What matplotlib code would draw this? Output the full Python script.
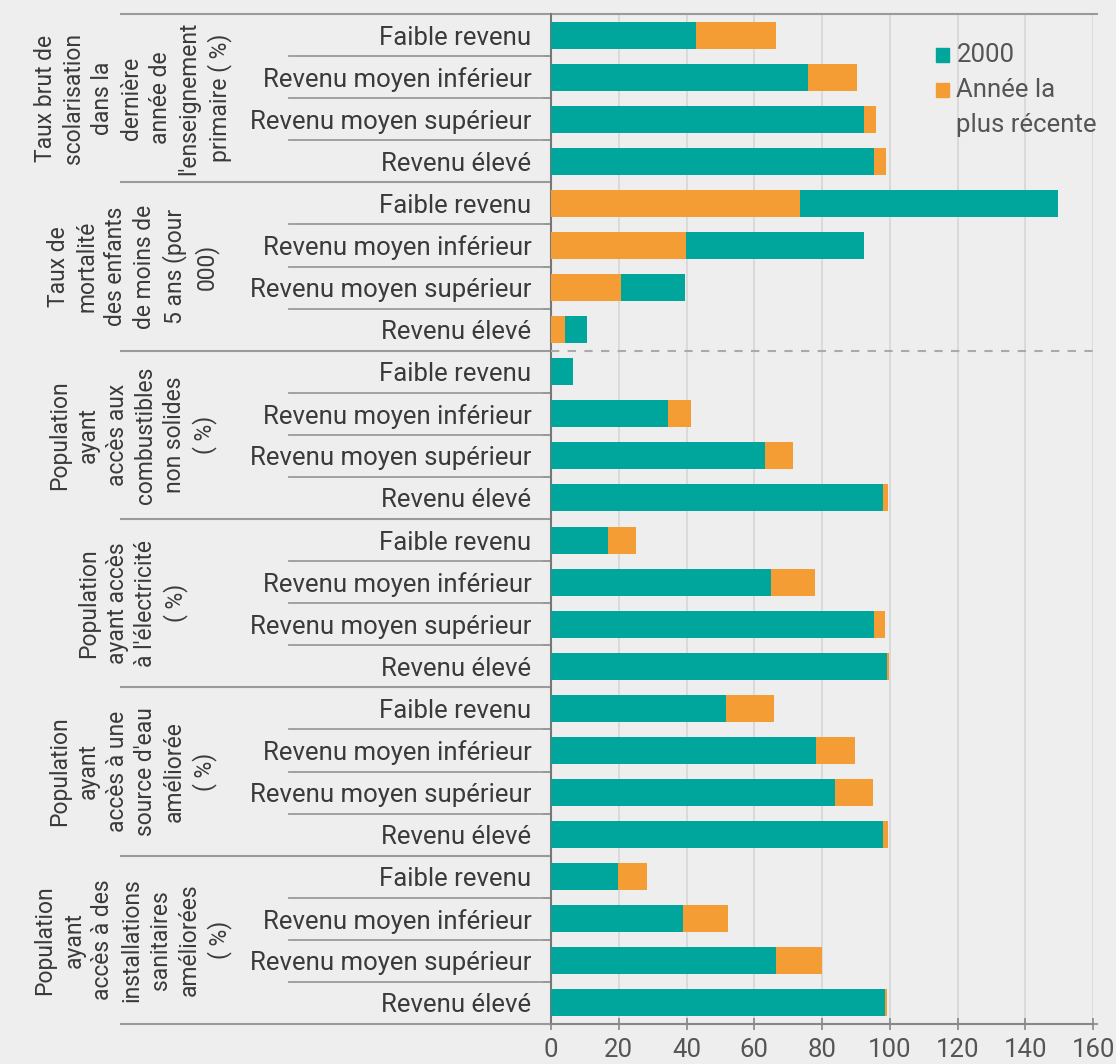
import matplotlib.pyplot as plt
from matplotlib.patches import Rectangle

plt.rcParams['font.family'] = ['Roboto', 'DejaVu Sans']

groups = [
    "Taux brut de\nscolarisation\ndans la\ndernière\nannée de\nl'enseignement\nprimaire ( %)",
    "Taux de\nmortalité\ndes enfants\nde moins de\n5 ans (pour\n000)",
    "Population\nayant\naccès aux\ncombustibles\nnon solides\n( %)",
    "Population\nayant accès\nà l'électricité\n( %)",
    "Population\nayant\naccès à une\nsource d'eau\naméliorée\n( %)",
    "Population\nayant\naccès à des\ninstallations\nsanitaires\naméliorées\n( %)",
]
incomes = ["Faible revenu", "Revenu moyen inférieur", "Revenu moyen supérieur", "Revenu élevé"]

# values per group, order = incomes
val_2000 = [
    [42.8, 76.0, 92.4, 95.3],
    [149.6, 92.4, 39.6, 10.6],
    [6.5, 34.5, 63.3, 97.9],
    [16.7, 65.0, 95.4, 99.2],
    [51.6, 78.2, 83.7, 97.9],
    [19.7, 39.1, 66.3, 98.5],
]
val_recent = [
    [66.3, 90.3, 95.9, 98.8],
    [73.6, 39.9, 20.8, 4.1],
    [6.5, 41.2, 71.4, 99.4],
    [25.0, 78.0, 98.7, 99.7],
    [65.8, 89.7, 95.1, 99.5],
    [28.4, 52.2, 80.0, 99.2],
]
xticks = [0, 20, 40, 60, 80, 100, 120, 140, 160]

teal = '#00a69c'
orange = '#f59d35'
bg = '#eeeeee'
txt = '#3a3a3a'
line_c = '#9a9a9a'
fs = 18.5

fig = plt.figure(figsize=(11.16, 10.64), dpi=100, facecolor=bg)
ax = fig.add_axes([551 / 1116, 40 / 1064, 542 / 1116, 1010 / 1064], facecolor=bg)

n = len(incomes)
rows, labels = [], []
for g in range(len(groups)):
    for i in range(n):
        y = g * n + i
        rows.append(y)
        labels.append(incomes[i])
        a, b = val_2000[g][i], val_recent[g][i]
        # longer bar behind, shorter in front
        if b >= a:
            ax.barh(y, b, height=0.64, color=orange, zorder=2)
            ax.barh(y, a, height=0.64, color=teal, zorder=3)
        else:
            ax.barh(y, a, height=0.64, color=teal, zorder=2)
            ax.barh(y, b, height=0.64, color=orange, zorder=3)

total = len(rows)
ax.set_ylim(total - 0.5, -0.5)
ax.set_xlim(0, 160)

ax.set_yticks(rows)
ax.set_yticklabels(labels, fontsize=fs, color=txt)
ax.tick_params(axis='y', which='major', length=0, pad=14)
ax.set_yticks([r + 0.5 for r in rows[:-1]], minor=True)
ax.tick_params(axis='y', which='minor', length=6, color='#777777', width=1.2)

ax.set_xticks(xticks)
ax.set_xticklabels([str(v) for v in xticks], fontsize=fs, color='#555555')
ax.tick_params(axis='x', direction='inout', length=8, color='#888888', width=1.2, pad=6)
ax.xaxis.grid(True, color='#d6d6d6', linewidth=1.2, zorder=0)
ax.set_axisbelow(True)

for s in ['top', 'right']:
    ax.spines[s].set_visible(False)
ax.spines['left'].set_color('#777777')
ax.spines['left'].set_linewidth(1.5)
ax.spines['bottom'].set_color('#888888')
ax.spines['bottom'].set_linewidth(1.5)

tr = ax.get_yaxis_transform()
long_x0 = -0.793
short_x0 = -0.483
# top line
ax.plot([long_x0, 1.007], [-0.5, -0.5], transform=tr, color=line_c, lw=1.5, clip_on=False)
ax.plot([1.0, 1.007], [total - 0.5, total - 0.5], transform=tr, color=line_c, lw=1.5, clip_on=False)
for g in range(len(groups)):
    yb = g * n + n - 0.5
    ax.plot([long_x0, 0], [yb, yb], transform=tr, color=line_c, lw=1.5, clip_on=False)
    for i in range(1, n):
        ys = g * n + i - 0.5
        ax.plot([short_x0, 0], [ys, ys], transform=tr, color=line_c, lw=1.3, clip_on=False)
    ax.text(-0.772, g * n + (n - 1) / 2, groups[g], transform=tr, rotation=90,
            ha='center', va='center', multialignment='center', fontsize=16.5,
            color=txt, linespacing=1.32)

# dashed separator between the two first groups and the rest
ax.plot([0, 1.007], [2 * n - 0.5, 2 * n - 0.5], transform=tr, color='#aaaaaa',
        lw=1.5, ls=(0, (4, 4)), clip_on=False, zorder=4)

# legend
ax.add_patch(Rectangle((0.710, 0.9525), 0.025, 0.0139, transform=ax.transAxes,
                       color=teal, clip_on=False))
ax.add_patch(Rectangle((0.710, 0.9178), 0.025, 0.0139, transform=ax.transAxes,
                       color=orange, clip_on=False))
ax.text(0.748, 0.9594, "2000", transform=ax.transAxes, fontsize=fs, color='#555555',
        va='center', ha='left')
ax.text(0.748, 0.9248, "Année la", transform=ax.transAxes, fontsize=fs,
        color='#555555', va='center', ha='left')
ax.text(0.748, 0.890, "plus récente", transform=ax.transAxes, fontsize=fs,
        color='#555555', va='center', ha='left')

fig.savefig('out.png', dpi=100, facecolor=bg)
